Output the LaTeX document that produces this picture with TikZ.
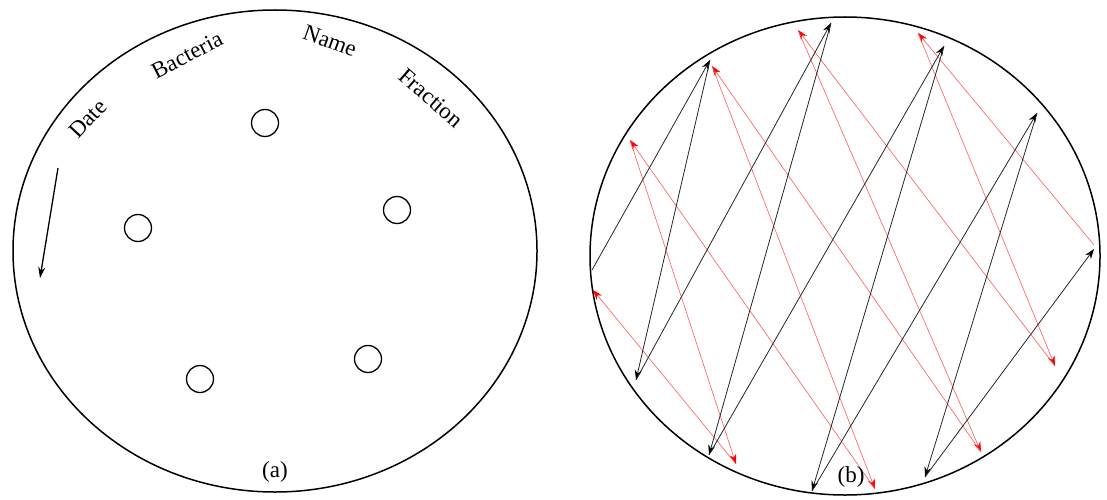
\documentclass[tikz,border=0pt]{standalone}
\usepackage{fontspec}
\setmainfont{Liberation Serif}
\usetikzlibrary{arrows.meta,shapes.geometric}
\tikzset{
  plate/.style={draw=black, line width=1.5pt},
  colony/.style={circle, draw=black, line width=1.3pt, minimum size=27pt, inner sep=0pt},
  lbl/.style={font=\fontsize{23}{25}\selectfont, inner sep=0pt},
  blk/.style={draw=black!85, line width=0.8pt, -{Stealth[length=10pt,width=7pt,color=black]}},
  rd/.style={draw=red!65, line width=0.6pt, -{Stealth[length=10pt,width=7pt,color=red]}},
}
\begin{document}
\begin{tikzpicture}[x=1pt,y=-1pt]
\useasboundingbox (0,0) rectangle (1107,500);
% ---------- (a) ----------
\node[plate, ellipse, minimum width=524pt, minimum height=482pt, inner sep=0pt] (pa) at (275,251) {};
\node[colony] (c1) at (265,123) {};
\node[colony] (c2) at (138,228) {};
\node[colony] (c3) at (397,210) {};
\node[colony] (c4) at (200,379) {};
\node[colony] (c5) at (368,359) {};
\node[lbl, rotate=47] (tdate) at (88,119) {Date};
\node[lbl, rotate=27] (tbac) at (187,55) {Bacteria};
\node[lbl, rotate=-20] (tname) at (330,41) {Name};
\node[lbl, rotate=-41] (tfrac) at (431,98) {Fraction};
\coordinate (da) at (58,168);
\coordinate (db) at (40,278);
\draw[line width=1.3pt, -{Stealth[length=11pt,width=7pt]}] (da) -- (db);
\node[lbl] (la) at (275,472) {(a)};
% ---------- (b) ----------
\node[plate, ellipse, minimum width=510pt, minimum height=478pt, inner sep=0pt] (pb) at (845,256) {};
% black zigzag
\coordinate (S) at (592,270);
\coordinate (T1) at (710,60);
\coordinate (B1) at (636,380);
\coordinate (T2) at (831,23);
\coordinate (B2) at (709,455);
\coordinate (T3) at (944,46);
\coordinate (B3) at (812,491);
\coordinate (T4) at (1037,113);
\coordinate (B4) at (925,477);
\coordinate (T5) at (1094,249);
% red zigzag
\coordinate (E) at (1094,245);
\coordinate (R4) at (918,33);
\coordinate (Q4) at (1055,366);
\coordinate (R3) at (798,30);
\coordinate (Q3) at (981,452);
\coordinate (R2) at (712,66);
\coordinate (Q2) at (875,489);
\coordinate (R1) at (630,140);
\coordinate (Q1) at (736,464);
\coordinate (L0) at (593,290);
\draw[rd] (E) -- (R4);
\draw[rd] (R4) -- (Q4);
\draw[rd] (Q4) -- (R3);
\draw[rd] (R3) -- (Q3);
\draw[rd] (Q3) -- (R2);
\draw[rd] (R2) -- (Q2);
\draw[rd] (Q2) -- (R1);
\draw[rd] (R1) -- (Q1);
\draw[rd] (Q1) -- (L0);
\draw[blk] (S) -- (T1);
\draw[blk] (T1) -- (B1);
\draw[blk] (B1) -- (T2);
\draw[blk] (T2) -- (B2);
\draw[blk] (B2) -- (T3);
\draw[blk] (T3) -- (B3);
\draw[blk] (B3) -- (T4);
\draw[blk] (T4) -- (B4);
\draw[blk] (B4) -- (T5);
\node[lbl] (lb) at (851,477) {(b)};
\end{tikzpicture}
\end{document}
